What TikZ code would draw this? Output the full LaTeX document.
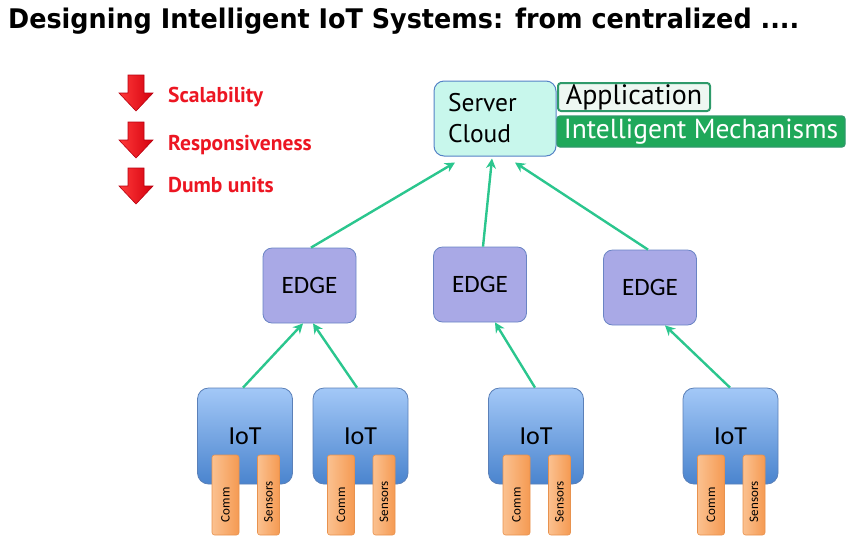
\documentclass[tikz,border=0pt]{standalone}
\usepackage{fontspec}
\setmainfont{Carlito}
\newfontfamily\titlefont{DejaVu Sans}
\newfontfamily\tahfont{PT Sans}
\usetikzlibrary{arrows.meta}
\definecolor{arrgreen}{HTML}{2BC68E}
\definecolor{iottop}{HTML}{A3C8F7}
\definecolor{iotbot}{HTML}{4A84CE}
\definecolor{iotborder}{HTML}{5B80B8}
\definecolor{edgefill}{HTML}{A9A9E6}
\definecolor{edgeborder}{HTML}{6A84C4}
\definecolor{srvfill}{HTML}{C8F7EC}
\definecolor{srvborder}{HTML}{5482C6}
\definecolor{tabl}{HTML}{FBC190}
\definecolor{tabr}{HTML}{F59A52}
\definecolor{tabborder}{HTML}{E8924E}
\definecolor{appfill}{HTML}{EEF7F2}
\definecolor{appborder}{HTML}{2E9A6A}
\definecolor{imfill}{HTML}{1FA85A}
\definecolor{redtxt}{HTML}{EC1622}
\definecolor{redl}{HTML}{FF3A3A}
\definecolor{redr}{HTML}{D4000E}
\definecolor{redborder}{HTML}{B80010}
\begin{document}
\begin{tikzpicture}[x=1pt,y=-1pt,
  conn/.style={draw=arrgreen, line width=2.4pt, -{Stealth[length=10pt,width=10pt]}},
  iotbox/.style={draw=iotborder, rounded corners=11pt, top color=iottop, bottom color=iotbot, minimum width=95pt, minimum height=96pt, line width=0.8pt, font=\fontsize{26}{30}\selectfont},
  edgebox/.style={draw=edgeborder, fill=edgefill, rounded corners=9pt, minimum width=93pt, minimum height=75pt, line width=0.8pt, font=\fontsize{25}{30}\selectfont},
  tabbox/.style={draw=tabborder, left color=tabl, right color=tabr, rounded corners=2.5pt, minimum width=#1, minimum height=80pt, inner sep=0pt, line width=0.6pt},
  tabtext/.style={rotate=90, anchor=west, inner sep=0pt, font=\fontsize{13}{15}\selectfont},
  redarr/.style={draw=redborder, left color=redl, right color=redr, line width=0.6pt},
  redlabel/.style={anchor=west, text=redtxt, inner sep=0pt, font=\tahfont\bfseries\fontsize{21.5}{24}\selectfont},
  ]
\useasboundingbox (0,0) rectangle (856,542);

% title
\node[anchor=base west, inner sep=0pt, font=\titlefont\bfseries\fontsize{27}{32}\selectfont] (title) at (8,28)
  {\scalebox{0.943}[1]{Designing Intelligent IoT Systems: from centralized ....}};

% red arrows and labels
\foreach \yy in {75,122,168}{
  \path[redarr] (128,\yy) -- (144,\yy) -- (144,\yy+18) -- (153,\yy+18) -- (136,\yy+36) -- (119,\yy+18) -- (128,\yy+18) -- cycle;
}
\node[redlabel] (l1) at (168,97) {Scalability};
\node[redlabel] (l2) at (168,145) {Responsiveness};
\node[redlabel] (l3) at (168,185) {Dumb units};

% server cloud
\node[draw=srvborder, fill=srvfill, rounded corners=10pt, minimum width=122pt, minimum height=75pt,
  text width=94pt, inner xsep=14pt, align=left, line width=1pt,
  font=\tahfont\fontsize{25.5}{31}\selectfont] (srv) at (495,118.5) {Server\\Cloud};
\node[draw=appborder, fill=appfill, rounded corners=3pt, line width=2pt, minimum width=152pt, minimum height=28pt,
  inner sep=0pt, font=\tahfont\fontsize{28}{28}\selectfont] (app) at (634,97) {Application};
\node[draw=appborder, fill=imfill, rounded corners=3pt, line width=1.2pt, minimum width=288pt, minimum height=31pt,
  inner sep=0pt, text=white, font=\tahfont\fontsize{27.5}{28}\selectfont] (im) at (701,131.5) {Intelligent Mechanisms};

% edges
\node[edgebox] (e1) at (309.5,285.5) {EDGE};
\node[edgebox] (e2) at (480,284.5) {EDGE};
\node[edgebox] (e3) at (650,287.5) {EDGE};

% iot
\node[iotbox] (i1) at (245,436) {IoT};
\node[iotbox] (i2) at (360.5,436) {IoT};
\node[iotbox] (i3) at (536,436) {IoT};
\node[iotbox] (i4) at (730.5,436) {IoT};

\foreach \n/\cx in {1/245,2/360.5,3/536,4/730.5}{
  \node[tabbox=27pt] (c\n) at (\cx-19.5,495) {};
  \node[tabbox=22pt] (s\n) at (\cx+23.5,495) {};
  \node[tabtext] at ([yshift=13pt]c\n.south) {Comm};
  \node[tabtext] at ([yshift=13pt]s\n.south) {Sensors};
}

% connectors
\draw[conn] ([xshift=-2pt]i1.north) -- ([xshift=-6.5pt]e1.south);
\draw[conn] ([xshift=-3.5pt]i2.north) -- ([xshift=3.5pt]e1.south);
\draw[conn] ([xshift=-1pt]i3.north) -- ([xshift=15pt]e2.south);
\draw[conn] ([xshift=-0.5pt]i4.north) -- ([xshift=15pt]e3.south);
\draw[conn] ([xshift=1.5pt]e1.north) -- ([xshift=-40pt,yshift=-6pt]srv.south);
\draw[conn] ([xshift=3pt]e2.north) -- ([xshift=-3pt,yshift=-2pt]srv.south);
\draw[conn] ([xshift=-2pt]e3.north) -- ([xshift=20pt,yshift=-6pt]srv.south);
\end{tikzpicture}
\end{document}
